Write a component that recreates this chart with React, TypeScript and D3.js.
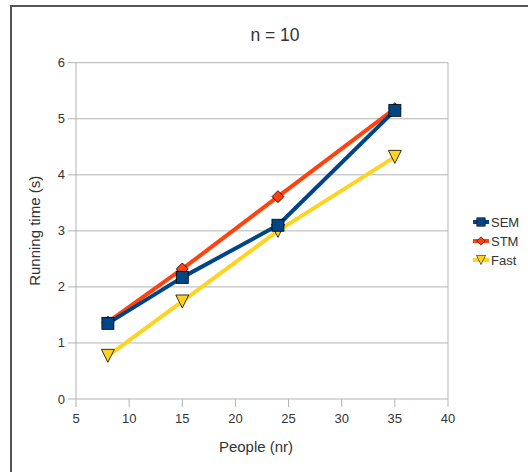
import React from "react";
import * as d3 from "d3";

const people = [8, 15, 24, 35];
const semValues = [1.35, 2.17, 3.1, 5.15];
const stmValues = [1.37, 2.32, 3.61, 5.18];
const fastValues = [0.77, 1.74, 3.0, 4.32];
const seriesNames = ["SEM", "STM", "Fast"];
const xTicks = [5, 10, 15, 20, 25, 30, 35, 40];
const yTicks = [0, 1, 2, 3, 4, 5, 6];

const colors: Record<string, string> = { SEM: "#004586", STM: "#ff420e", Fast: "#ffd320" };

const W = 528, H = 472;
const m = { left: 76, right: 448, top: 62.7, bottom: 399 };

function Marker({ name, x, y }: { name: string; x: number; y: number }) {
  const c = colors[name];
  if (name === "SEM") {
    const s = 12;
    return <rect x={x - s / 2} y={y - s / 2} width={s} height={s} fill={c} stroke="#000" strokeWidth={0.8} />;
  }
  if (name === "STM") {
    const r = 6;
    return <path d={`M${x},${y - r}L${x + r},${y}L${x},${y + r}L${x - r},${y}Z`} fill={c} stroke="#000" strokeWidth={0.8} />;
  }
  const r = 6.5;
  return <path d={`M${x - r},${y - r}L${x + r},${y - r}L${x},${y + r}Z`} fill={c} stroke="#000" strokeWidth={0.8} />;
}

export default function App() {
  const x = d3.scaleLinear().domain([5, 40]).range([m.left, m.right]);
  const y = d3.scaleLinear().domain([0, 6]).range([m.bottom, m.top]);
  const data: Record<string, number[]> = { SEM: semValues, STM: stmValues, Fast: fastValues };
  const line = d3.line<[number, number]>().x((d) => x(d[0])).y((d) => y(d[1]));
  const drawOrder = ["Fast", "STM", "SEM"];
  const font = "'Liberation Sans', Arial, sans-serif";
  return (
    <svg width={W} height={H} style={{ position: "absolute", left: 0, top: 0 }} fontFamily={font}>
      <rect x={0} y={0} width={W} height={H} fill="#fff" />
      <rect x={11} y={6} width={W + 20} height={H + 20} fill="none" stroke="#555" strokeWidth={2} />
      <text x={275} y={41} textAnchor="middle" fontSize={17.5} fill="#333">n = 10</text>
      {yTicks.map((t) => (
        <g key={"y" + t}>
          <line x1={m.left} x2={m.right} y1={y(t)} y2={y(t)} stroke="#b3b3b3" strokeWidth={1} />
          <line x1={m.left - 8} x2={m.left} y1={y(t)} y2={y(t)} stroke="#b3b3b3" strokeWidth={1} />
          <text x={m.left - 11} y={y(t) + 4.5} textAnchor="end" fontSize={13} fill="#333">{t}</text>
        </g>
      ))}
      {xTicks.map((t) => (
        <g key={"x" + t}>
          <line x1={x(t)} x2={x(t)} y1={m.bottom} y2={m.bottom + 8} stroke="#b3b3b3" strokeWidth={1} />
          <text x={x(t)} y={m.bottom + 24} textAnchor="middle" fontSize={13} fill="#333">{t}</text>
        </g>
      ))}
      <line x1={m.left} x2={m.left} y1={m.top} y2={m.bottom} stroke="#b3b3b3" />
      <line x1={m.right} x2={m.right} y1={m.top} y2={m.bottom} stroke="#b3b3b3" />
      <text x={256} y={452} textAnchor="middle" fontSize={15} fill="#333">People (nr)</text>
      <text transform={`translate(40,${(m.top + m.bottom) / 2}) rotate(-90)`} textAnchor="middle" fontSize={15} fill="#333">Running time (s)</text>
      {drawOrder.map((name) => (
        <path key={name} d={line(people.map((p, i) => [p, data[name][i]]) as [number, number][]) || ""} fill="none" stroke={colors[name]} strokeWidth={4} strokeLinejoin="round" />
      ))}
      {drawOrder.map((name) => (
        <g key={"m" + name}>
          {people.map((p, i) => (
            <Marker key={i} name={name} x={x(p)} y={y(data[name][i])} />
          ))}
        </g>
      ))}
      {seriesNames.map((name, i) => {
        const ly = 222 + i * 19;
        return (
          <g key={"l" + name}>
            <line x1={473} x2={489} y1={ly} y2={ly} stroke={colors[name]} strokeWidth={4} />
            <g transform={`translate(${481},${ly}) scale(0.7) translate(${-481},${-ly})`}>
              <Marker name={name} x={481} y={ly} />
            </g>
            <text x={491} y={ly + 4.5} fontSize={13} fill="#333">{name}</text>
          </g>
        );
      })}
    </svg>
  );
}
